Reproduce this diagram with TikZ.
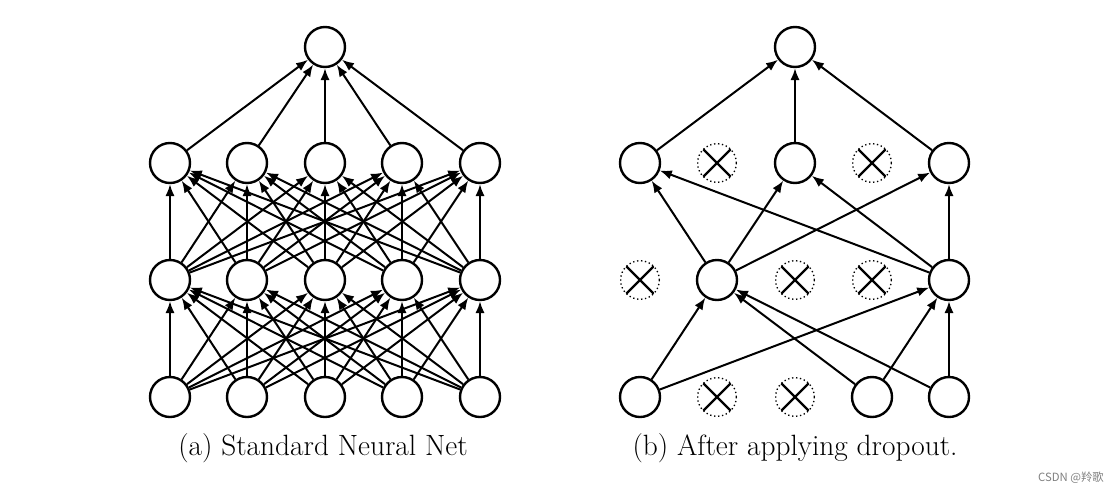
\documentclass[tikz,border=0pt]{standalone}
\usepackage{fontspec}
\newfontfamily\cjk{Noto Sans CJK SC}
\usetikzlibrary{arrows.meta}
\begin{document}
\begin{tikzpicture}[x=0.75pt,y=-0.75pt,
  neuron/.style={circle,draw,line width=1.8pt,minimum size=30pt,inner sep=0pt,fill=white},
  drop/.style={circle,draw,dotted,line width=1pt,minimum size=29pt,inner sep=0pt,
    path picture={\draw[line width=1.7pt,solid]
      ([shift={(-12pt,-12pt)}]path picture bounding box.center) -- ([shift={(12pt,12pt)}]path picture bounding box.center)
      ([shift={(-12pt,12pt)}]path picture bounding box.center) -- ([shift={(12pt,-12pt)}]path picture bounding box.center);}},
  conn/.style={-{Latex[length=9pt,width=7pt]},line width=1.5pt},
  caption/.style={font=\fontsize{22}{26}\selectfont}]
\useasboundingbox (0,0) rectangle (1120,493);
% left network
\node[neuron] (Lo) at (325,47) {};
\foreach \i/\x in {1/170,2/247,3/325,4/402,5/480}{
  \node[neuron] (Lg\i) at (\x,163) {};
  \node[neuron] (Lh\i) at (\x,280) {};
  \node[neuron] (Li\i) at (\x,397) {};
}
\foreach \i in {1,...,5}{
  \draw[conn] (Lg\i) -- (Lo);
  \foreach \j in {1,...,5}{
    \draw[conn] (Li\i) -- (Lh\j);
    \draw[conn] (Lh\i) -- (Lg\j);
  }
}
% right network
\node[neuron] (Ro) at (795,47) {};
\node[neuron] (Rg1) at (640,163) {};
\node[drop]   (Rg2) at (717,163) {};
\node[neuron] (Rg3) at (795,163) {};
\node[drop]   (Rg4) at (872,163) {};
\node[neuron] (Rg5) at (949,163) {};
\node[drop]   (Rh1) at (640,280) {};
\node[neuron] (Rh2) at (717,280) {};
\node[drop]   (Rh3) at (795,280) {};
\node[drop]   (Rh4) at (872,280) {};
\node[neuron] (Rh5) at (949,280) {};
\node[neuron] (Ri1) at (640,397) {};
\node[drop]   (Ri2) at (717,397) {};
\node[drop]   (Ri3) at (795,397) {};
\node[neuron] (Ri4) at (872,397) {};
\node[neuron] (Ri5) at (949,397) {};
\foreach \a/\b in {Rg1/Ro,Rg3/Ro,Rg5/Ro,
  Rh2/Rg1,Rh2/Rg3,Rh2/Rg5,Rh5/Rg1,Rh5/Rg3,Rh5/Rg5,
  Ri1/Rh2,Ri1/Rh5,Ri4/Rh2,Ri4/Rh5,Ri5/Rh2,Ri5/Rh5}{
  \draw[conn] (\a) -- (\b);
}
% captions
\node[caption] (capa) at (323,448) {(a) Standard Neural Net};
\node[caption] (capb) at (795,448) {(b) After applying dropout.};
\node[font=\cjk\fontsize{8.5}{10}\selectfont,text=black!50] (wm) at (1071,478) {CSDN @羚歌};
\end{tikzpicture}
\end{document}
